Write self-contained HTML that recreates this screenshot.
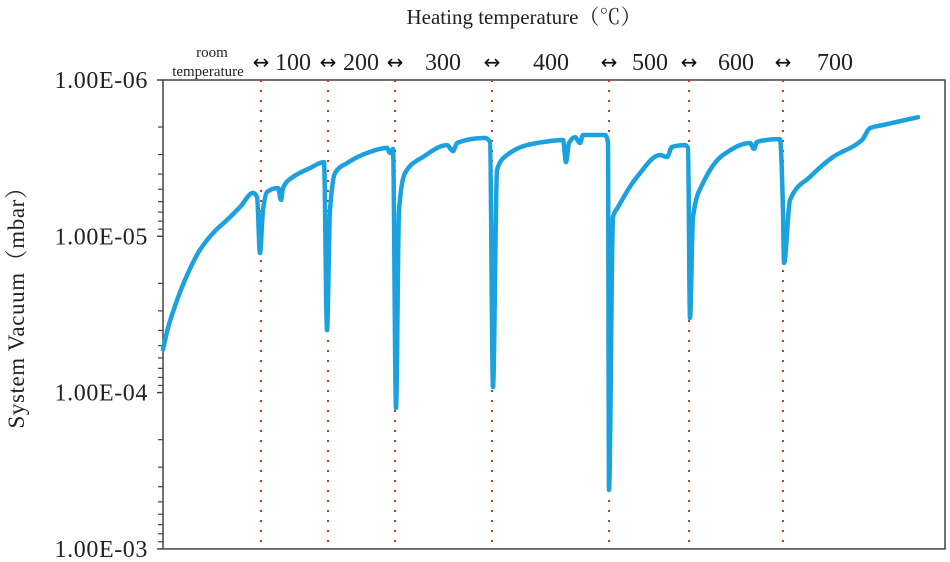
<!DOCTYPE html>
<html><head><meta charset="utf-8"><style>
body{margin:0;background:#fff;}
svg{display:block;font-family:"Liberation Serif","Noto Serif CJK SC",serif;}
</style></head><body>
<svg id="chart" width="950" height="562" viewBox="0 0 950 562">
<text x="524" y="24" font-size="21" text-anchor="middle" fill="#222">Heating temperature（℃）</text>
<text x="212" y="57" font-size="15" text-anchor="middle" fill="#222">room</text>
<text x="208" y="76" font-size="15" text-anchor="middle" fill="#222">temperature</text>
<text transform="translate(24,302) rotate(-90)" font-size="23" letter-spacing="0.6" text-anchor="middle" fill="#222">System Vacuum（mbar）</text>
<g id="axes"></g>
<g id="dividers"></g>
<g id="series"></g>
</svg>
<script>
// time (arbitrary units) and pressure in units of 1e-6 mbar
const times = [0,5,12,22,37,52,64,77,90,94,97,100,104,115,118,120,130,147,161,164,167,172,184,204,224,227,230,233,236,242,260,284,290,294,322,327,330,334,344,364,387,400,403,406,412,417,420,442,445,446,450,455,474,497,504,509,522,525,527,530,540,560,587,591,594,617,620,621,627,647,670,699,707,720,755];
const values = [53,38.6,27.9,19.0,12.2,9.25,7.87,6.5,5.28,5.61,12.8,6.79,5.21,4.91,5.86,4.91,4.17,3.66,3.35,39.8,6.79,3.94,3.40,2.93,2.72,2.93,2.76,125.5,6.79,3.94,3.11,2.61,2.85,2.53,2.35,2.49,92.1,3.77,3.02,2.61,2.46,2.42,3.35,2.53,2.32,2.53,2.25,2.25,2.53,420,7.53,6.5,4.17,3.02,3.11,2.68,2.61,2.72,33.3,7.53,4.56,3.02,2.53,2.76,2.49,2.39,6.79,14.8,5.86,4.17,3.11,2.42,2.03,1.94,1.73];
const dividerTimes = [98,165,232,329,446,526,620];
const tempLabels = ["100","200","300","400","500","600","700"];
const tempLabelTimes = [130,198,280,388,487,573,672];
const yTickLabels = ["1.00E-06","1.00E-05","1.00E-04","1.00E-03"];
const yTickValues = [1,10,100,1000];

const X0=163, X1=945, Y0=80, DEC=156.3;
const NS="http://www.w3.org/2000/svg";
function xs(t){return X0+t;}
function ys(v){return Y0+Math.log10(v)*DEC;}
function mk(tag,attrs,parent){const e=document.createElementNS(NS,tag);for(const k in attrs)e.setAttribute(k,attrs[k]);parent.appendChild(e);return e;}

const axes=document.getElementById('axes');
const frame=mk('rect',{x:X0,y:Y0,width:X1-X0,height:ys(1000)-Y0,fill:'none',stroke:'#444','stroke-width':1.5},axes);


yTickValues.forEach((v,i)=>{
  const y=ys(v);
  const t=mk('text',{x:148,y:y+8,'font-size':24,'letter-spacing':0.6,'text-anchor':'end',fill:'#222'},axes);
  t.textContent=yTickLabels[i];
  
  
  const tk=mk('line',{x1:X0-6,x2:X0,y1:y,y2:y,stroke:'#444','stroke-width':1.5},axes);
  
  
  if(i<yTickValues.length-1){
    for(let m=2;m<10;m++){
      const yy=ys(v*m);
      const mt=mk('line',{x1:X0-5,x2:X0,y1:yy,y2:yy,stroke:'#444','stroke-width':1.2},axes);
      
      
    }
  }
});

const dv=document.getElementById('dividers');
dividerTimes.forEach(t=>{
  const x=xs(t);
  const l=mk('line',{x1:x,x2:x,y1:Y0,y2:ys(1000),stroke:'#c0392b','stroke-width':2,'stroke-dasharray':'2 8'},dv);
  
  
  const a=mk('text',{x:x,y:69,'font-size':20,'text-anchor':'middle',fill:'#111','font-family':'DejaVu Sans'},dv);
  a.textContent='↔';
  
  
});
tempLabels.forEach((s,i)=>{
  const t=mk('text',{x:xs(tempLabelTimes[i]),y:70,'font-size':24,'text-anchor':'middle',fill:'#222'},dv);
  t.textContent=s;
  
  
});

// monotone cubic (Fritsch-Carlson) path through the data points
function monotonePath(px,py){
  const n=px.length, d=[], m=new Array(n);
  for(let i=0;i<n-1;i++) d.push((py[i+1]-py[i])/(px[i+1]-px[i]));
  m[0]=d[0]; m[n-1]=d[n-2];
  for(let i=1;i<n-1;i++){
    if(d[i-1]*d[i]<=0) m[i]=0;
    else { const h0=px[i]-px[i-1], h1=px[i+1]-px[i]; const w1=2*h1+h0, w2=h1+2*h0; m[i]=(w1+w2)/(w1/d[i-1]+w2/d[i]); }
  }
  let s='M'+px[0].toFixed(1)+','+py[0].toFixed(1);
  for(let i=0;i<n-1;i++){
    const h=(px[i+1]-px[i])/3;
    s+=' C'+(px[i]+h).toFixed(1)+','+(py[i]+m[i]*h).toFixed(1)+' '+(px[i+1]-h).toFixed(1)+','+(py[i+1]-m[i+1]*h).toFixed(1)+' '+px[i+1].toFixed(1)+','+py[i+1].toFixed(1);
  }
  return s;
}
const sr=document.getElementById('series');
const pl=mk('path',{d:monotonePath(times.map(xs),values.map(ys)),fill:'none',stroke:'#1ba1dd','stroke-width':4.5,'stroke-linejoin':'round','stroke-linecap':'round'},sr);


</script>
</body></html>
